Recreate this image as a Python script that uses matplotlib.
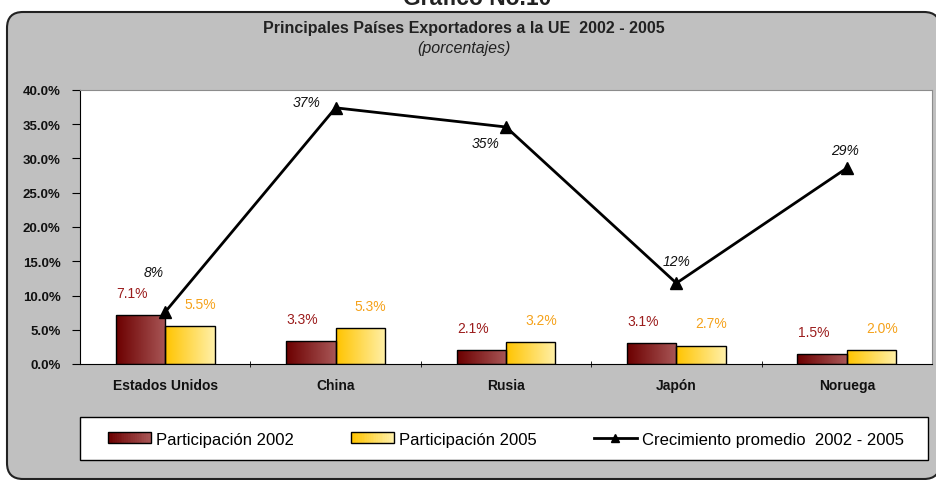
import numpy as np
import matplotlib.pyplot as plt
from matplotlib.patches import FancyBboxPatch, Patch, Rectangle
from matplotlib.lines import Line2D
from matplotlib.legend_handler import HandlerBase
from matplotlib.colors import LinearSegmentedColormap
from matplotlib.ticker import FuncFormatter, FixedLocator

plt.rcParams['font.family'] = ['Liberation Sans', 'DejaVu Sans']

# data
paises = ['Estados Unidos', 'China', 'Rusia', 'Japón', 'Noruega']
part_2002 = [7.1, 3.3, 2.1, 3.1, 1.5]
part_2005 = [5.5, 5.3, 3.2, 2.7, 2.0]
crecimiento = [7.6, 37.4, 34.6, 11.8, 28.6]

W, H = 937, 481
fig = plt.figure(figsize=(W / 100, H / 100), dpi=100)
fig.patch.set_facecolor('white')

# background layer in pixel coordinates
bg = fig.add_axes([0, 0, 1, 1], zorder=-1)
bg.set_xlim(0, W)
bg.set_ylim(H, 0)
bg.axis('off')
bg.add_patch(FancyBboxPatch((7, 13), 933, 467, boxstyle='round,pad=0,rounding_size=16',
                            facecolor='#c0c0c0', edgecolor='#222222', linewidth=1.5))
bg.add_patch(Rectangle((80, 418), 848, 43, facecolor='white', edgecolor='black', linewidth=1))

fig.text(477 / W, 1 - 5 / H, 'Gráfico No.10', ha='center', va='baseline',
         fontsize=16.5, fontweight='bold', color='#222222')
fig.text(464 / W, 1 - 28 / H, 'Principales Países Exportadores a la UE  2002 - 2005',
         ha='center', va='center', fontsize=11.5, fontweight='bold', color='#222222')
fig.text(464 / W, 1 - 48 / H, '(porcentajes)', ha='center', va='center',
         fontsize=11.5, style='italic', color='#222222')

ax = fig.add_axes([80 / W, 1 - 365 / H, 852 / W, 274 / H])
ax.set_facecolor('white')

x = np.arange(len(paises))
bw = 0.29
b1 = ax.bar(x - bw / 2, part_2002, bw, edgecolor='black', linewidth=1, facecolor='#8b2a2a', zorder=2)
b2 = ax.bar(x + bw / 2, part_2005, bw, edgecolor='black', linewidth=1, facecolor='#ffd966', zorder=2)

red_cmap = LinearSegmentedColormap.from_list('r', ['#6c0000', '#a85656'])
yel_cmap = LinearSegmentedColormap.from_list('y', ['#ffc400', '#fff0a8'])
grad = np.linspace(0, 1, 64).reshape(1, -1)
for bars, cmap in ((b1, red_cmap), (b2, yel_cmap)):
    for p in bars:
        x0, y0 = p.get_x(), p.get_y()
        im = ax.imshow(grad, cmap=cmap, aspect='auto', zorder=2.5,
                       extent=[x0, x0 + p.get_width(), y0, y0 + p.get_height()])
        im.set_clip_path(p)
        p.set_facecolor('none')
        p.set_zorder(3)
ax.set_xlim(-0.5, len(paises) - 0.5)
ax.set_ylim(0, 40)

ax.plot(x, crecimiento, color='black', lw=2, marker='^', markersize=8, zorder=4)

for i, v in enumerate(part_2002):
    ax.text(x[i] - bw / 2 - 0.05, v + 2.2, f'{v:.1f}%', ha='center', va='bottom',
            fontsize=10, color='#9b1c1c')
for i, v in enumerate(part_2005):
    ax.text(x[i] + bw / 2 + 0.06, v + 2.2, f'{v:.1f}%', ha='center', va='bottom',
            fontsize=10, color='#f5a21b')

lab_off = [(-0.07, 5.9), (-0.17, 0.9), (-0.12, -2.3), (0.0, 3.3), (-0.01, 2.6)]
for i, v in enumerate(crecimiento):
    dx, dy = lab_off[i]
    ax.text(x[i] + dx, v + dy, f'{v:.0f}%', ha='center', va='center',
            fontsize=10, style='italic', color='#111111')

ax.yaxis.set_major_locator(FixedLocator(np.arange(0, 41, 5)))
ax.yaxis.set_major_formatter(FuncFormatter(lambda v, p: f'{v:.1f}%'))
ax.set_xticks(x)
ax.set_xticklabels(paises)
ax.set_xticks(np.arange(0.5, len(paises) - 1, 1), minor=True)
ax.tick_params(axis='x', which='major', length=0, pad=10, labelsize=10, labelcolor='#111111')
ax.tick_params(axis='x', which='minor', length=4, direction='inout', color='black')
ax.tick_params(axis='y', length=6, direction='out', pad=8, labelsize=9.5, labelcolor='#111111')
for t in ax.get_yticklabels():
    t.set_fontweight('bold')
for t in ax.get_xticklabels():
    t.set_fontweight('bold')

for s in ('top', 'right'):
    ax.spines[s].set_color('#8c8c8c')
for s in ('left', 'bottom'):
    ax.spines[s].set_color('black')


# legend swatch with the same left-to-right gradient as the bars
class GradHandler(HandlerBase):
    def __init__(self, cmap):
        super().__init__()
        self.cmap = cmap

    def create_artists(self, legend, orig_handle, xdescent, ydescent,
                       width, height, fontsize, trans):
        n = 24
        arts = []
        for k in range(n):
            arts.append(Rectangle((-xdescent + width * k / n, -ydescent), width / n + 0.4, height,
                                  facecolor=self.cmap(k / (n - 1)), edgecolor='none',
                                  transform=trans))
        arts.append(Rectangle((-xdescent, -ydescent), width, height, facecolor='none',
                              edgecolor='black', linewidth=1, transform=trans))
        return arts


h1 = Patch(facecolor='#8b2a2a', edgecolor='black')
h2 = Patch(facecolor='#ffd966', edgecolor='black')
h3 = Line2D([0], [0], color='black', lw=2, marker='^', markersize=6)
labels = ['Participación 2002', 'Participación 2005', 'Crecimiento promedio  2002 - 2005']
leg = fig.legend([h1, h2, h3], labels, loc='center', ncol=3,
                 bbox_to_anchor=(506 / W, 1 - 440 / H),
                 frameon=False, fontsize=12,
                 handlelength=2.6, handleheight=0.6, handletextpad=0.3,
                 columnspacing=3.4,
                 handler_map={h1: GradHandler(red_cmap), h2: GradHandler(yel_cmap)})

fig.savefig('out.png', dpi=100, facecolor='white')
